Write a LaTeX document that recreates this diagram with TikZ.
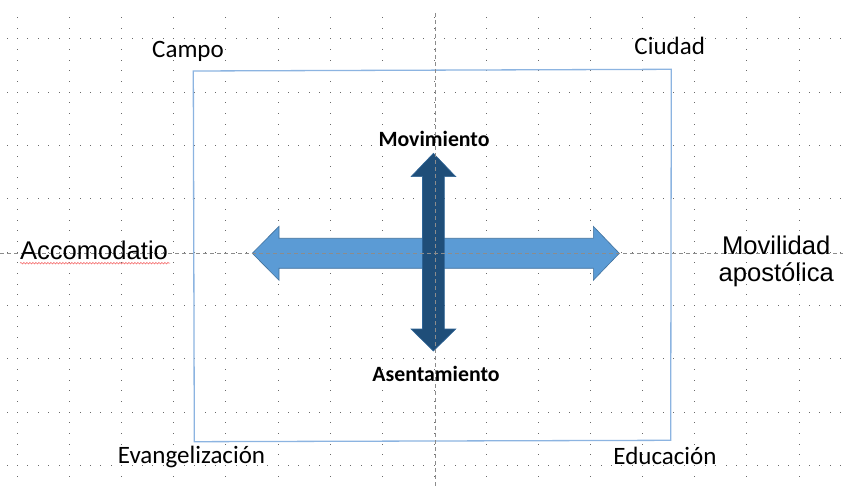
\documentclass[tikz,border=0pt]{standalone}
\usepackage{fontspec}
\setmainfont{Carlito}
\newfontfamily\arialf{Liberation Sans}
\usetikzlibrary{decorations.pathmorphing}
\definecolor{lightarrow}{HTML}{5B9BD5}
\definecolor{lightedge}{HTML}{41719C}
\definecolor{darkarrow}{HTML}{1F4E79}
\definecolor{darkedge}{HTML}{2E6496}
\definecolor{frameblue}{RGB}{140,180,225}
\definecolor{dotgray}{RGB}{105,105,105}
\definecolor{guidegray}{RGB}{140,140,140}
\definecolor{spellred}{RGB}{245,110,110}
\begin{document}
\begin{tikzpicture}[x=1pt,y=-1pt,
  corner/.style={inner sep=0pt,outer sep=0pt,anchor=base,font=\fontsize{25}{30}\selectfont},
  axislabel/.style={inner sep=0pt,outer sep=0pt,anchor=base,font=\fontsize{21.8}{26}\selectfont\bfseries},
  sidelabel/.style={inner sep=0pt,outer sep=0pt,font=\arialf\fontsize{25.6}{27}\selectfont},
  guide/.style={guidegray,line width=0.8pt,dash pattern=on 4pt off 3pt}]
\useasboundingbox (0,0) rectangle (843,486);
\fill[white] (0,0) rectangle (843,486);
% grid rows
\foreach \r in {-4,...,4}{
  \foreach \k in {-41,...,39}{
    \fill[dotgray] ({434.3+10.42*\k-0.5},{252.3+53.33*\r-0.5}) rectangle ++(1,1);
  }
}
% grid columns
\foreach \c in {-8,...,7}{
  \foreach \m in {-22,...,21}{
    \fill[dotgray] ({434.3+52.1*\c-0.5},{252.3+10.667*\m-0.5}) rectangle ++(1,1);
  }
}
% frame
\draw[frameblue,line width=1.3pt] (193.3,71) -- (671.3,69.3) -- (670.7,440.3) -- (194.3,441.7) -- cycle;
% horizontal double arrow
\filldraw[fill=lightarrow,draw=lightedge,line width=0.6pt,line join=miter]
  (252.3,253.3) -- (279,226.3) -- (279,238.3) -- (593.3,238.3) -- (593.3,226.3)
  -- (619.3,253.3) -- (593.3,280.3) -- (593.3,268.3) -- (279,268.3) -- (279,280.3) -- cycle;
% vertical double arrow
\filldraw[fill=darkarrow,draw=darkedge,line width=0.6pt,line join=miter]
  (433.4,153.3) -- (455.8,176.7) -- (444.3,176.7) -- (444.3,329) -- (455.8,329)
  -- (433.4,351) -- (411,329) -- (422.5,329) -- (422.5,176.7) -- (411,176.7) -- cycle;
% guides
\draw[guide] (0,253.3) -- (843,253.3);
\draw[guide] (435,13) -- (435,486);
% labels
\node[corner] (campo) at (188,58) {Campo};
\node[corner] (ciudad) at (669.7,55) {Ciudad};
\node[corner] (evang) at (191.5,463.3) {Evangelización};
\node[corner] (educ) at (665,464) {Educación};
\node[axislabel] (movim) at (434,146.7) {Movimiento};
\node[axislabel] (asent) at (436,381.7) {Asentamiento};
\node[sidelabel,anchor=base west] (accom) at (20,259.3) {Accomodatio};
\node[sidelabel,anchor=base,align=center] (movil) at (776.2,281.7) {Movilidad\\apostólica};
% spell-check underline
\draw[spellred,line width=0.6pt,decorate,decoration={snake,amplitude=0.8pt,segment length=3pt}]
  (20,263.2) -- (170,263.2);
\end{tikzpicture}
\end{document}
